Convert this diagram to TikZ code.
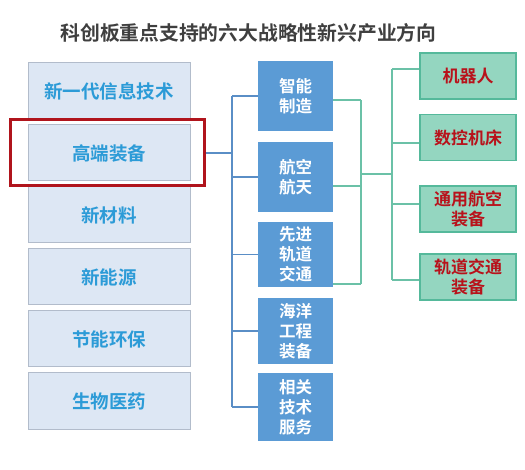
\documentclass[tikz,border=0pt]{standalone}
\usepackage{fontspec}
\newfontfamily\cjk{Noto Sans CJK SC}[BoldFont={Noto Sans CJK SC Bold}]
\definecolor{titlegray}{HTML}{3F3F3F}
\definecolor{fieldfill}{HTML}{DDE7F4}
\definecolor{fieldline}{HTML}{B2BCCB}
\definecolor{fieldtext}{HTML}{2C9BD7}
\definecolor{hired}{HTML}{B0141C}
\definecolor{areafill}{HTML}{5B9BD5}
\definecolor{arealine}{HTML}{5A8EC6}
\definecolor{itemfill}{HTML}{94D6C0}
\definecolor{itemline}{HTML}{55B99B}
\definecolor{itemtext}{HTML}{B8121B}
\definecolor{greenline}{HTML}{6BC1A7}
\begin{document}
\begin{tikzpicture}[x=1pt, y=-1pt,
    field/.style={draw=fieldline, fill=fieldfill, line width=1pt, minimum width=162pt, minimum height=56pt, font=\cjk\bfseries\fontsize{18.5}{22}\selectfont, text=fieldtext},
    area/.style={fill=areafill, minimum width=75pt, inner sep=0pt, align=center, font=\cjk\bfseries\fontsize{16.5}{20}\selectfont, text=white},
    item/.style={draw=itemline, fill=itemfill, line width=1.2pt, minimum width=96pt, minimum height=46pt, inner sep=0pt, align=center, font=\cjk\bfseries\fontsize{17}{20}\selectfont, text=itemtext},
    blueconn/.style={draw=arealine, line width=1.5pt},
    greenconn/.style={draw=greenline, line width=1.5pt}]
        % Page
        \fill[white] (0,0) rectangle (525,470);
        \useasboundingbox (0,0) rectangle (525,470);
        % Title
        \node[font=\cjk\bfseries\fontsize{19.8}{22}\selectfont, text=titlegray] (title) at (248.5,33) {科创板重点支持的六大战略性新兴产业方向};

        % Left column: six fields
        \node[field] (infotech) at (109,91) {新一代信息技术};
        \node[field] (highend) at (109,153) {高端装备};
        \node[field] (material) at (109,215) {新材料};
        \node[field] (energy) at (109,277) {新能源};
        \node[field] (green) at (109,339) {节能环保};
        \node[field] (biomed) at (109,401) {生物医药};
        % Red highlight round the chosen field
        \node[draw=hired, line width=3.8pt, minimum width=194pt, minimum height=66pt] (frame) at (107.5,152.5) {};

        % Middle column: sub areas
        \node[area, minimum height=70pt] (smart) at (295.5,96) {智能\\制造};
        \node[area, minimum height=70pt] (aero) at (295.5,177) {航空\\航天};
        \node[area, minimum height=65pt] (rail) at (295.5,254.5) {先进\\轨道\\交通};
        \node[area, minimum height=66pt] (ocean) at (295.5,331) {海洋\\工程\\装备};
        \node[area, minimum height=68pt] (service) at (295.5,407) {相关\\技术\\服务};

        % Right column: key items
        \node[item] (robot) at (468,76) {机器人};
        \node[item] (cnc) at (468,137.5) {数控机床};
        \node[item] (aviation) at (468,209) {通用航空\\装备};
        \node[item] (railgear) at (468,277) {轨道交通\\装备};

        % Blue connectors
        \coordinate (bluebus) at (232,153);
        \draw[blueconn] (frame.east |- bluebus) -- (bluebus);
        \draw[blueconn] (bluebus |- smart) -- (bluebus |- service);
        \draw[blueconn] (bluebus |- smart) -- (smart.west);
        \draw[blueconn] (bluebus |- aero) -- (aero.west);
        \draw[blueconn] (bluebus |- rail) -- (rail.west);
        \draw[blueconn] (bluebus |- ocean) -- (ocean.west);
        \draw[blueconn] (bluebus |- service) -- (service.west);

        % Green connectors
        \coordinate (greenbus) at (361,174);
        \coordinate (greenjoin) at (392,174);
        \draw[greenconn] ([yshift=-4pt]smart.east) -- ([yshift=-4pt]greenbus |- smart);
        \draw[greenconn] ([yshift=-9pt]aero.east) -- ([yshift=-9pt]greenbus |- aero);
        \draw[greenconn] ([yshift=3pt]rail.south east) -- ([yshift=3pt]greenbus |- rail.south);
        \draw[greenconn] ([yshift=-4pt]greenbus |- smart) -- ([yshift=3pt]greenbus |- rail.south);
        \draw[greenconn] (greenbus) -- (greenjoin);
        \draw[greenconn] ([yshift=7pt]greenjoin |- robot) -- ([yshift=-3pt]greenjoin |- railgear);
        \draw[greenconn] ([yshift=7pt]greenjoin |- robot) -- ([yshift=7pt]robot.west);
        \draw[greenconn] ([yshift=-5.5pt]greenjoin |- cnc) -- ([yshift=-5.5pt]cnc.west);
        \draw[greenconn] ([yshift=5pt]greenjoin |- aviation) -- ([yshift=5pt]aviation.west);
        \draw[greenconn] ([yshift=-3pt]greenjoin |- railgear) -- ([yshift=-3pt]railgear.west);
\end{tikzpicture}
\end{document}
